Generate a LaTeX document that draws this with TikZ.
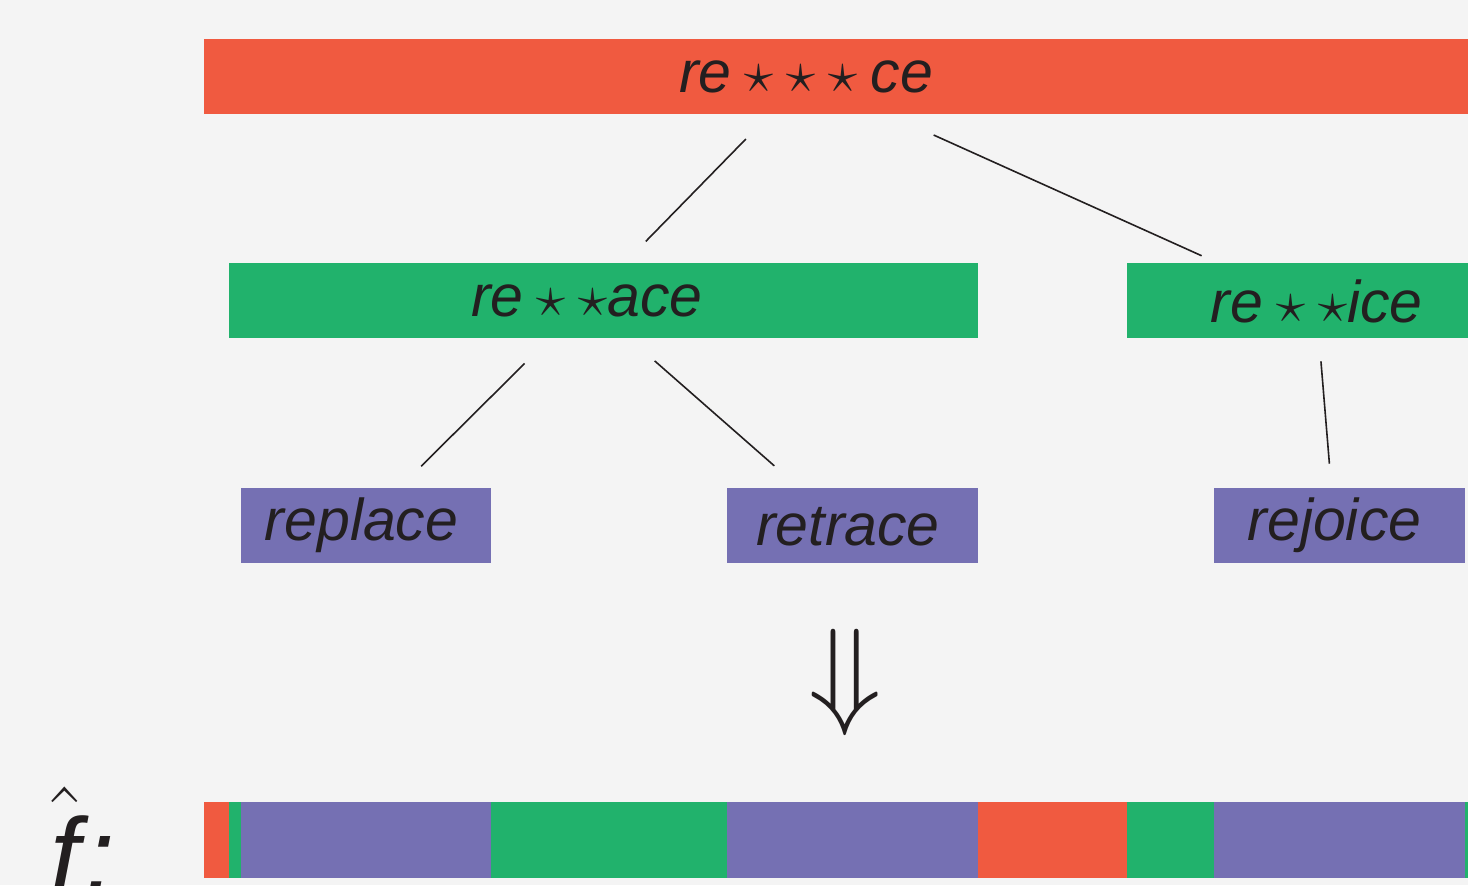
\RequirePackage{fix-cm}
\documentclass[tikz,border=0pt]{standalone}
\usepackage{fontspec}
\setmainfont{Liberation Sans}

\definecolor{rootred}{HTML}{F05A40}
\definecolor{midgreen}{HTML}{21B26C}
\definecolor{leafpurple}{HTML}{7570B3}
\definecolor{paper}{HTML}{F4F4F4}
\definecolor{ink}{HTML}{231F20}

\tikzset{
  word/.style={text=ink, inner sep=0pt,
    font=\fontsize{29.5}{34}\selectfont\itshape,
    text height=20.5pt, text depth=5.9pt},
  edge/.style={draw=ink, line width=0.8pt},
}

\begin{document}
\begin{tikzpicture}[x=0.5pt, y=-0.5pt]
  \fill[paper] (0,0) rectangle (1468,885);
  \useasboundingbox (0,0) rectangle (1468,885);

  % boxes of the tree
  \fill[rootred] (204,39) rectangle (1480,114);
  \fill[midgreen] (229,263) rectangle (978,338);
  \fill[midgreen] (1127,263) rectangle (1480,338);
  \foreach \xa/\xb in {241/491, 727/978, 1214/1465}
    \fill[leafpurple] (\xa,488) rectangle (\xb,563);

  \node[word] (root)    at (806,77.5)     {re$\:{\star}\:{\star}\:{\star}\:$ce};
  \node[word] (midl)    at (587,301.5)    {re$\:{\star}\:{\star}$ace};
  \node[word] (midr)    at (1316.5,307.5) {re$\:{\star}\:{\star}$ice};
  \node[word] (replace) at (361.5,525.5)  {replace};
  \node[word] (retrace) at (848,530.5)    {retrace};
  \node[word] (rejoice) at (1334.5,525.5) {rejoice};

  \foreach \from/\to/\sa/\sb in {root/midl/43/42, root/midr/70/63,
    midl/replace/44/42, midl/retrace/45/49, midr/rejoice/27/31}
    \draw[edge, shorten <=\sa pt, shorten >=\sb pt] (\from.center) -- (\to.center);

  \node[text=ink, font=\fontsize{60}{70}\selectfont] (down) at (845.5,682.5) {$\Downarrow$};

  % flattened bar
  \foreach \xa/\xb/\col in {204/229/rootred, 229/241/midgreen,
    241/491/leafpurple, 491/727/midgreen, 727/978/leafpurple,
    978/1127/rootred, 1127/1214/midgreen, 1214/1465/leafpurple,
    1465/1480/midgreen}
    \fill[\col] (\xa,802) rectangle (\xb,878);

  \node[text=ink, anchor=base west, inner sep=0pt,
    font=\fontsize{53}{60}\selectfont\itshape] (fhat) at (50,892) {$\hat{\mbox{f}}$\hspace{0.05em}:};
\end{tikzpicture}
\end{document}
